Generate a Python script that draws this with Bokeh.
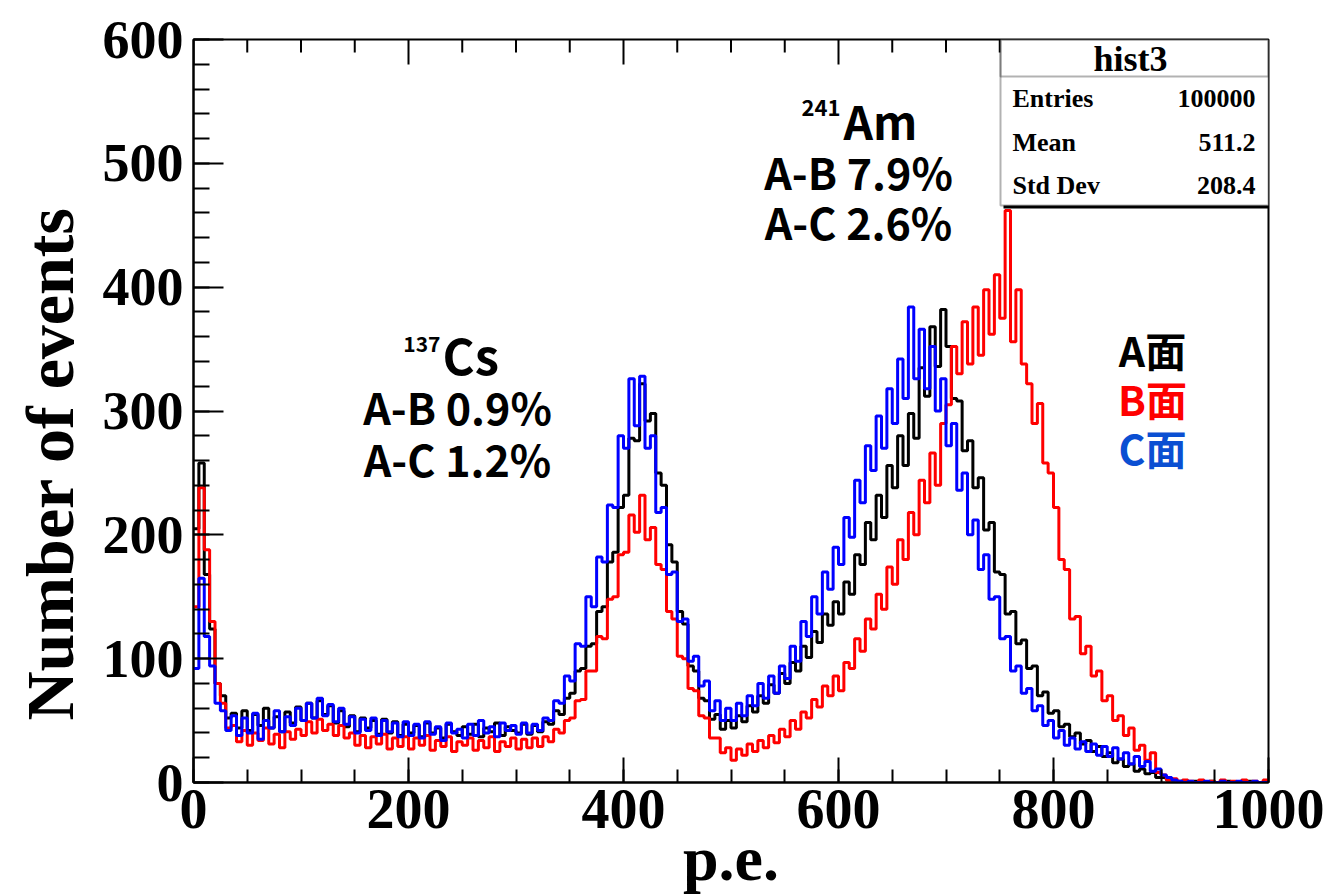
from bokeh.plotting import figure
from bokeh.models import Range1d, LinearAxis, SingleIntervalTicker, Label, BoxAnnotation, Title
from bokeh.embed import file_html
from bokeh.resources import INLINE

# ---------------- data ----------------
bin_width = 5
pe_bins = list(range(0, 1000, bin_width))          # left edge of each 5 p.e. bin

counts_A = [  # black, "A面"
    205, 258, 168, 124, 80, 70, 52, 56, 44, 58, 42, 55, 46, 60, 44, 53, 41, 57, 48, 61,
    50, 64, 52, 66, 55, 62, 48, 58, 45, 54, 41, 52, 44, 50, 39, 51, 40, 49, 38, 47,
    40, 46, 37, 48, 40, 44, 36, 47, 41, 38, 45, 39, 47, 37, 44, 41, 48, 38, 45, 42,
    40, 47, 39, 46, 41, 49, 47, 58, 55, 68, 72, 90, 92, 110, 112, 138, 142, 178, 186, 222,
    232, 278, 276, 322, 292, 298, 250, 240, 192, 178, 138, 128, 94, 90, 68, 66, 51, 55, 43, 50,
    44, 54, 49, 62, 57, 70, 64, 79, 72, 88, 80, 97, 90, 110, 101, 122, 113, 136, 127, 146,
    136, 162, 152, 184, 176, 210, 196, 232, 214, 256, 238, 280, 256, 298, 278, 335, 312, 368, 336, 382,
    352, 310, 308, 268, 276, 238, 246, 204, 210, 170, 168, 136, 138, 112, 115, 92, 94, 70, 73, 56,
    58, 45, 47, 37, 40, 31, 34, 25, 29, 21, 24, 16, 19, 13, 15, 9, 11, 7, 8, 4,
    4, 2, 2, 1, 1, 0, 1, 0, 0, 1, 0, 0, 1, 0, 0, 0, 1, 0, 0, 0,
]
counts_B = [  # red, "B面"
    142, 238, 188, 130, 80, 64, 44, 46, 33, 42, 30, 40, 34, 44, 31, 39, 28, 41, 35, 43,
    38, 49, 40, 51, 42, 47, 38, 46, 36, 40, 30, 38, 28, 37, 31, 39, 27, 36, 29, 37,
    27, 36, 30, 38, 26, 34, 29, 37, 25, 33, 30, 36, 26, 34, 28, 37, 25, 33, 29, 36,
    27, 35, 28, 36, 29, 37, 33, 43, 40, 50, 52, 66, 67, 90, 90, 118, 116, 148, 150, 184,
    186, 216, 202, 232, 196, 206, 176, 172, 138, 132, 102, 100, 76, 74, 54, 52, 36, 36, 24, 28,
    18, 27, 22, 31, 25, 34, 28, 38, 32, 43, 37, 50, 43, 57, 52, 67, 61, 78, 70, 86,
    74, 97, 92, 116, 106, 132, 124, 152, 140, 174, 160, 196, 180, 218, 200, 244, 226, 266, 240, 290,
    305, 352, 330, 372, 338, 384, 345, 398, 362, 410, 375, 462, 356, 398, 338, 322, 290, 306, 258, 250,
    222, 180, 172, 132, 134, 104, 110, 86, 90, 66, 70, 50, 54, 38, 44, 26, 30, 18, 24, 8,
    6, 2, 3, 0, 2, 1, 0, 2, 0, 1, 0, 2, 0, 1, 0, 2, 0, 1, 0, 2,
]
counts_C = [  # blue, "C面"
    92, 165, 118, 94, 64, 58, 42, 54, 38, 52, 40, 56, 35, 50, 44, 58, 41, 53, 46, 60,
    50, 64, 52, 68, 54, 63, 49, 60, 47, 53, 40, 51, 42, 52, 38, 50, 41, 48, 37, 49,
    38, 47, 36, 49, 39, 45, 34, 48, 40, 43, 36, 47, 38, 50, 40, 45, 37, 48, 42, 46,
    39, 48, 40, 47, 42, 52, 50, 66, 64, 86, 82, 112, 110, 150, 142, 182, 178, 224, 222, 280,
    270, 326, 288, 328, 270, 280, 218, 222, 168, 170, 130, 132, 98, 102, 78, 82, 58, 66, 50, 60,
    50, 64, 54, 70, 62, 80, 68, 86, 72, 94, 84, 110, 98, 130, 118, 150, 136, 170, 156, 190,
    176, 214, 198, 244, 226, 272, 252, 296, 270, 318, 290, 342, 310, 384, 326, 366, 318, 352, 300, 326,
    272, 290, 236, 250, 200, 212, 172, 184, 148, 150, 116, 118, 90, 94, 72, 76, 58, 62, 46, 50,
    36, 42, 30, 36, 27, 33, 25, 31, 22, 29, 21, 28, 19, 24, 15, 21, 13, 17, 9, 11,
    6, 4, 2, 1, 0, 1, 0, 0, 1, 0, 0, 1, 0, 0, 1, 0, 0, 1, 0, 0,
]
series_names = ["A面", "B面", "C面"]
series_colors = ["#000000", "#ff0000", "#0000ff"]
legend_colors = ["#000000", "#ff0000", "#0b4fd2"]

x_major_ticks = [0, 200, 400, 600, 800, 1000]
x_minor_step = 50
y_major_step = 100

stats_title = "hist3"
stats_names = ["Entries", "Mean", "Std Dev"]
stats_values = ["100000", "511.2", "208.4"]

x_title = "p.e."
y_title = "Number of events"

# ---------------- layout (page pixels of the plotting frame) ----------------
W, H = 1326, 896
FL, FR, FT, FB = 193, 1268, 39, 782
X0, X1, Y0, Y1 = 0, 1000, 0, 600


def px2x(px):
    return X0 + (px - FL) / (FR - FL) * (X1 - X0)


def py2y(py):
    return Y0 + (FB - py) / (FB - FT) * (Y1 - Y0)


SERIF = "Liberation Serif"
SANS = "Noto Sans CJK JP"

p = figure(width=W, height=H, output_backend="svg", toolbar_location=None,
           x_range=Range1d(X0, X1), y_range=Range1d(Y0, Y1),
           min_border_left=FL, min_border_right=W - FR, min_border_top=FT, min_border_bottom=H - FB,
           x_axis_type=None, y_axis_type=None)
p.background_fill_color = "white"
p.border_fill_color = "white"
p.outline_line_color = "black"
p.outline_line_width = 2

xt = SingleIntervalTicker(interval=x_major_ticks[1] - x_major_ticks[0],
                          num_minor_ticks=(x_major_ticks[1] - x_major_ticks[0]) // x_minor_step)
yt = SingleIntervalTicker(interval=y_major_step, num_minor_ticks=5)

xaxis = LinearAxis(ticker=xt, axis_label=x_title)
yaxis = LinearAxis(ticker=yt)
xaxis.major_tick_in = 25
xaxis.minor_tick_in = 13
yaxis.major_tick_in = 30
yaxis.minor_tick_in = 16
for ax in (xaxis, yaxis):
    ax.major_tick_out = 0
    ax.minor_tick_out = 0
    ax.axis_line_color = "black"
    ax.axis_line_width = 2
    ax.major_tick_line_color = "black"
    ax.major_tick_line_width = 2
    ax.minor_tick_line_color = "black"
    ax.minor_tick_line_width = 2
    ax.major_label_text_font = SERIF
    ax.major_label_text_font_style = "bold"
    ax.major_label_text_color = "black"
xaxis.major_label_text_font_size = "56px"
xaxis.major_label_standoff = 7
xaxis.axis_label_text_font = SERIF
xaxis.axis_label_text_font_style = "bold"
xaxis.axis_label_text_font_size = "64px"
xaxis.axis_label_text_color = "black"
xaxis.axis_label_standoff = -8
yaxis.major_label_text_font_size = "54px"
yaxis.major_label_standoff = 10

p.add_layout(xaxis, "below")
p.add_layout(yaxis, "left")

# y-axis title, placed like the original (lower than the frame centre)
p.add_layout(Title(text=y_title, align="left", offset=FB - 720, vertical_align="top",
                   standoff=20, text_font=SERIF, text_font_style="bold",
                   text_font_size="68px", text_color="black"), "left")

# ticks along the top edge of the frame
top_major = x_major_ticks
top_minor = [v for v in range(X0, X1 + 1, x_minor_step) if v not in x_major_ticks]
maj_len = 25 / (FB - FT) * (Y1 - Y0)
min_len = 13 / (FB - FT) * (Y1 - Y0)
p.segment(x0=top_major, y0=[Y1] * len(top_major), x1=top_major, y1=[Y1 - maj_len] * len(top_major),
          line_color="black", line_width=2)
p.segment(x0=top_minor, y0=[Y1] * len(top_minor), x1=top_minor, y1=[Y1 - min_len] * len(top_minor),
          line_color="black", line_width=2)

p.xgrid.ticker = xt
p.ygrid.ticker = yt
for g in (p.xgrid, p.ygrid):
    g.grid_line_color = "black"
    g.grid_line_width = 1.6
    g.grid_line_dash = "2 5"
    g.grid_line_alpha = 1.0

# ---------------- histograms ----------------
edges = pe_bins + [X1]
for counts, col in zip([counts_A, counts_B, counts_C], series_colors):
    ys = counts + [counts[-1]]
    p.step(x=edges, y=ys, mode="after", line_color=col, line_width=3)


# ---------------- texts ----------------
def lab(px, py, text, size, color="black", font=SANS, align="center", baseline="middle"):
    p.add_layout(Label(x=px2x(px), y=py2y(py), text=text, text_font=font,
                       text_font_size=f"{size}px", text_font_style="bold",
                       text_color=color, text_align=align, text_baseline=baseline))


# 137Cs block
lab(440, 343, "137", 21, align="right")
lab(442, 353, "Cs", 49, align="left")
lab(457, 405, "A-B 0.9%", 43)
lab(457, 457, "A-C 1.2%", 43)

# 241Am block
lab(840, 107, "241", 22, align="right")
lab(843, 119, "Am", 46, align="left")
lab(858, 170, "A-B 7.9%", 43)
lab(858, 220, "A-C 2.6%", 43)

# series names
for name, col, py in zip(series_names, legend_colors, [348, 397, 446]):
    lab(1152, py, name, 41, color=col)

# stats box (with ROOT-like shadow)
sb_l, sb_r, sb_b, sb_sep = 1000, FR, 205, 76
p.add_layout(BoxAnnotation(left=px2x(sb_l + 3), right=px2x(sb_r + 3), bottom=py2y(sb_b + 3),
                           top=py2y(FT + 3), fill_color="black", fill_alpha=1, line_alpha=0))
p.add_layout(BoxAnnotation(left=px2x(sb_l), right=X1, bottom=py2y(sb_b), top=Y1,
                           fill_color="white", fill_alpha=1, line_color="black", line_width=2))
p.add_layout(BoxAnnotation(left=px2x(sb_l), right=X1, bottom=py2y(sb_sep), top=Y1,
                           fill_alpha=0, line_color="black", line_width=2))
lab(1130, 58, stats_title, 36, font=SERIF)
for nm, val, py in zip(stats_names, stats_values, [98, 142, 185]):
    lab(1012, py, nm, 26, font=SERIF, align="left")
    lab(1255, py, val, 26, font=SERIF, align="right")

open("out.html", "w").write(file_html(p, INLINE))
